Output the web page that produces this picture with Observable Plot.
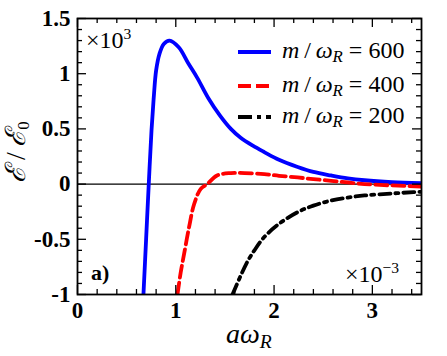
<!DOCTYPE html>
<html>
<head>
<meta charset="utf-8">
<script src="https://cdn.jsdelivr.net/npm/d3@7"></script>
<script src="https://cdn.jsdelivr.net/npm/@observablehq/plot@0.6"></script>
<style>
  html, body { margin: 0; padding: 0; background: #fff; }
  #wrap { position: relative; width: 447px; height: 356px; color: #000; }
  #wrap > svg { position: absolute; left: 0; top: 0; }
  .ann { position: absolute; white-space: nowrap; line-height: 1; }
  .leg { position: absolute; left: 238px; width: 180px; height: 30px; }
  .leg svg { position: absolute; left: 0; top: 0; }
  .leg span { position: absolute; left: 44px; top: 0; font-size: 24px; line-height: 1; }
  i { font-style: italic; }
  sub.r { font-size: 0.7em; font-style: italic; vertical-align: -0.25em; line-height: 0; }
  sup { font-size: 0.65em; vertical-align: 0.55em; line-height: 0; }
</style>
</head>
<body>
<div id="wrap" style="font-family:'Liberation Serif'"></div>
<script>
// ---- data ----
const xTicks = [0, 1, 2, 3];
const xTickLabels = ["0", "1", "2", "3"];
const yTicks = [-1, -0.5, 0, 0.5, 1, 1.5];
const yTickLabels = ["-1", "-0.5", "0", "0.5", "1", "1.5"];

const seriesNames = ["m/ωR = 600", "m/ωR = 400", "m/ωR = 200"];

const x600 = [0.671, 0.698, 0.725, 0.753, 0.776, 0.800, 0.834, 0.878, 0.936, 1.03, 1.13, 1.22, 1.33, 1.45, 1.56, 1.66, 1.78, 1.90, 2.05, 2.24, 2.40, 2.58, 2.75, 2.92, 3.20, 3.50];
const y600 = [-1.0, -0.5, 0.0, 0.486, 0.787, 1.03, 1.18, 1.27, 1.30, 1.24, 1.09, 0.96, 0.78, 0.62, 0.50, 0.42, 0.35, 0.29, 0.22, 0.155, 0.11, 0.078, 0.052, 0.035, 0.018, 0.008];

const x400 = [1.017, 1.05, 1.085, 1.135, 1.187, 1.254, 1.32, 1.42, 1.56, 1.70, 1.90, 2.05, 2.24, 2.40, 2.58, 2.75, 2.92, 3.20, 3.50];
const y400 = [-1.0, -0.80, -0.63, -0.39, -0.18, -0.043, 0.0, 0.078, 0.10, 0.10, 0.09, 0.075, 0.06, 0.045, 0.03, 0.015, 0.0, -0.012, -0.022];

const x200 = [1.577, 1.65, 1.73, 1.80, 1.90, 2.05, 2.24, 2.40, 2.58, 2.75, 2.92, 3.20, 3.42, 3.50];
const y200 = [-1.0, -0.85, -0.70, -0.60, -0.48, -0.36, -0.254, -0.195, -0.149, -0.122, -0.103, -0.085, -0.073, -0.07];

// ---- build rows ----
const rows600 = x600.map((x, i) => ({x, y: y600[i]}));
const rows400 = x400.map((x, i) => ({x, y: y400[i]}));
const rows200 = x200.map((x, i) => ({x, y: y200[i]}));

const W = 447, H = 356, mL = 77, mR = 26, mT = 18, mB = 62;
const plotH = H - mT - mB, plotW = W - mL - mR;
const majLen = 9, minLen = 5;
const xMinor = d3.range(0, 3.5001, 0.2).map(v => +v.toFixed(2)).filter(v => !xTicks.includes(v));
const yMinor = d3.range(-1, 1.5001, 0.1).map(v => +v.toFixed(2)).filter(v => !yTicks.includes(v));

const SERIF = "Liberation Serif";
const font = {fontFamily: SERIF, fontSize: 23, fontWeight: "bold"};

const chart = Plot.plot({
  width: W, height: H,
  marginLeft: mL, marginRight: mR, marginTop: mT, marginBottom: mB,
  style: {background: "transparent", color: "#000", overflow: "visible"},
  x: {domain: [0, 3.5]},
  y: {domain: [-1, 1.5]},
  marks: [
    Plot.ruleY([0], {stroke: "#000", strokeWidth: 1.3}),
    Plot.line(rows600, {x: "x", y: "y", stroke: "#0000ff", strokeWidth: 3.8, curve: "catmull-rom", clip: true}),
    Plot.line(rows400, {x: "x", y: "y", stroke: "#ff0000", strokeWidth: 3.8, strokeDasharray: "12,5", curve: "catmull-rom", clip: true}),
    Plot.line(rows200, {x: "x", y: "y", stroke: "#000", strokeWidth: 3.8, strokeDasharray: "11,5,3,5", curve: "catmull-rom", clip: true}),
    // inward ticks
    Plot.tickX(xTicks, {x: d => d, insetTop: plotH - majLen, stroke: "#000", strokeWidth: 1.3}),
    Plot.tickX(xTicks, {x: d => d, insetBottom: plotH - majLen, stroke: "#000", strokeWidth: 1.3}),
    Plot.tickX(xMinor, {x: d => d, insetTop: plotH - minLen, stroke: "#000", strokeWidth: 1.3}),
    Plot.tickX(xMinor, {x: d => d, insetBottom: plotH - minLen, stroke: "#000", strokeWidth: 1.3}),
    Plot.tickY(yTicks, {y: d => d, insetRight: plotW - majLen, stroke: "#000", strokeWidth: 1.3}),
    Plot.tickY(yTicks, {y: d => d, insetLeft: plotW - majLen, stroke: "#000", strokeWidth: 1.3}),
    Plot.tickY(yMinor, {y: d => d, insetRight: plotW - minLen, stroke: "#000", strokeWidth: 1.3}),
    Plot.tickY(yMinor, {y: d => d, insetLeft: plotW - minLen, stroke: "#000", strokeWidth: 1.3}),
    Plot.frame({stroke: "#000", strokeWidth: 1.8}),
    Plot.axisX(xTicks, {tickSize: 0, tickPadding: 7, tickFormat: d => xTickLabels[xTicks.indexOf(d)], label: null, ...font}),
    Plot.axisY(yTicks, {tickSize: 0, tickPadding: 7, tickFormat: d => yTickLabels[yTicks.indexOf(d)], label: null, ...font})
  ]
});
const wrap = document.getElementById("wrap");
wrap.appendChild(chart);
chart.setAttribute("font-family", SERIF);
d3.select(chart).selectAll("text").attr("font-family", SERIF).style("font-family", "'Liberation Serif'");

// annotations
function ann(html, css) {
  const d = document.createElement("div");
  d.className = "ann";
  d.innerHTML = html;
  d.style.fontFamily = "'Liberation Serif'";
  Object.assign(d.style, css);
  wrap.appendChild(d);
  return d;
}
ann("×10<sup>3</sup>", {left: "86px", top: "28px", fontSize: "24px"});
ann("×10<sup>−3</sup>", {left: "345px", top: "262px", fontSize: "24px"});
ann("a)", {left: "91px", top: "262px", fontSize: "22px", fontWeight: "bold"});
ann("<i>a</i><i>ω</i><sub class='r'>R</sub>", {left: "226px", top: "320px", fontSize: "28px"});
ann("<i>ℰ</i>&thinsp;/&thinsp;<i>ℰ</i><sub style='font-size:0.6em;vertical-align:-0.25em;line-height:0'>0</sub>", {left: "16px", top: "152px", fontSize: "28px", transform: "translate(-50%,-50%) rotate(-90deg)"});

// legend
const legStyles = [
  {color: "#0000ff", dash: null, top: 38},
  {color: "#ff0000", dash: "13,5", top: 72},
  {color: "#000000", dash: "14,5,4,5", top: 103}
];
seriesNames.forEach((name, i) => {
  const s = legStyles[i];
  const d = document.createElement("div");
  d.className = "leg";
  d.style.top = s.top + "px";
  const rest = name.split(" = ")[1];
  const ns = "http://www.w3.org/2000/svg";
  const svg = document.createElementNS(ns, "svg");
  svg.setAttribute("width", "36"); svg.setAttribute("height", "30");
  const ln = document.createElementNS(ns, "line");
  ln.setAttribute("x1", "0"); ln.setAttribute("x2", "33");
  ln.setAttribute("y1", "14"); ln.setAttribute("y2", "14");
  ln.setAttribute("stroke", s.color); ln.setAttribute("stroke-width", "3.8");
  if (s.dash) ln.setAttribute("stroke-dasharray", s.dash);
  svg.appendChild(ln);
  d.appendChild(svg);
  const sp = document.createElement("span");
  sp.style.fontFamily = "'Liberation Serif'";
  sp.innerHTML = "<i>m</i>&thinsp;/&thinsp;<i>ω</i><sub class='r'>R</sub> = " + rest;
  d.appendChild(sp);
  wrap.appendChild(d);
});
</script>
</body>
</html>
